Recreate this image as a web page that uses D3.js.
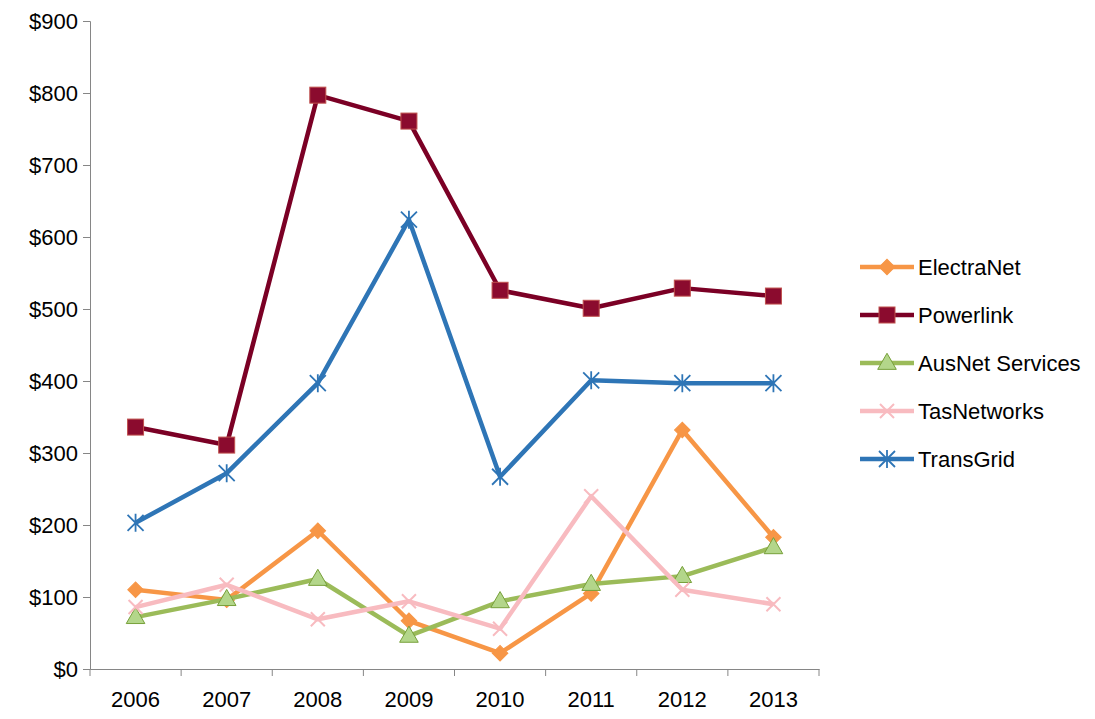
<!DOCTYPE html>
<html><head><meta charset="utf-8">
<script src="https://cdn.jsdelivr.net/npm/d3@7"></script>
<style>body{margin:0;background:#fff}</style>
</head><body>
<svg id="chart" width="1095" height="719"></svg>
<script>
let years = ['2006','2007','2008','2009','2010','2011','2012','2013'];
let yTicks = [0,100,200,300,400,500,600,700,800,900];
let electraNet = [110,96,192,67,22,105,332,183];
let powerlink = [336,311,797,761,526,501,529,518];
let ausNet = [72,97,125,46,94,118,129,169];
let tasNetworks = [86,117,69,94,56,240,110,90];
let transGrid = [203,272,397,624,267,401,397,397];

let seriesList = [
  {name:'ElectraNet', values:electraNet, color:'#F79646', marker:'diamond', fill:'#F79646'},
  {name:'Powerlink', values:powerlink, color:'#7B0025', marker:'square', fill:'#8B0B2E'},
  {name:'AusNet Services', values:ausNet, color:'#9BBB59', marker:'triangle', fill:'#B3D68A'},
  {name:'TasNetworks', values:tasNetworks, color:'#F8BBC0', marker:'x', fill:'none'},
  {name:'TransGrid', values:transGrid, color:'#2E75B6', marker:'star', fill:'none'}
];

let svg = d3.select('#chart');
let plotLeft = 90, plotRight = 819, plotTop = 21, plotBottom = 669;

let x = d3.scaleBand().domain(years).range([plotLeft, plotRight]);
let y = d3.scaleLinear().domain([0, 900]).range([plotBottom, plotTop]);
let font = "'Liberation Sans', Arial, sans-serif";
let fs = '22px';

// y axis
let ya = svg.append('g').attr('transform', `translate(${plotLeft},0)`)
  .call(d3.axisLeft(y).tickValues(yTicks).tickFormat(d => '$' + d).tickSize(7).tickPadding(5));
ya.selectAll('text').style('font-size',fs).attr('font-family',font).attr('fill','#000');
ya.selectAll('line,path').attr('stroke','#868686');

// x axis
let xa = svg.append('g').attr('transform', `translate(0,${plotBottom})`)
  .call(d3.axisBottom(x).tickSize(0).tickPadding(22));
xa.selectAll('text').style('font-size',fs).attr('font-family',font).attr('fill','#000');
xa.select('.domain').attr('stroke','#868686');
xa.selectAll('.sep').data(d3.range(years.length + 1)).enter().append('line')
  .attr('x1', i => plotLeft + i * x.step()).attr('x2', i => plotLeft + i * x.step())
  .attr('y1', 0).attr('y2', 7).attr('stroke','#868686');

function drawMarker(g, type, cx, cy, s) {
  if (type === 'diamond') {
    g.append('rect').attr('x', -5.5).attr('y', -5.5).attr('width', 11).attr('height', 11)
      .attr('transform',`translate(${cx},${cy}) rotate(45)`)
      .attr('fill', s.fill).attr('stroke', s.color);
  } else if (type === 'square') {
    g.append('rect').attr('x', cx-8).attr('y', cy-8).attr('width',16).attr('height',16)
      .attr('fill', s.fill).attr('stroke','#C0504D').attr('stroke-width',1);
  } else if (type === 'triangle') {
    g.append('path').attr('d', d3.symbol(d3.symbolTriangle, 150)()).attr('transform',`translate(${cx},${cy+1})`)
      .attr('fill', s.fill).attr('stroke', '#77A03A').attr('stroke-width',1);
  } else if (type === 'x') {
    g.append('path').attr('d', `M${cx-7},${cy-7}L${cx+7},${cy+7}M${cx-7},${cy+7}L${cx+7},${cy-7}`)
      .attr('stroke', s.color).attr('stroke-width',2);
  } else if (type === 'star') {
    g.append('path').attr('d', `M${cx-8},${cy-8}L${cx+8},${cy+8}M${cx-8},${cy+8}L${cx+8},${cy-8}M${cx},${cy-9}L${cx},${cy+9}`)
      .attr('stroke', s.color).attr('stroke-width',1.8);
  }
}

let line = d3.line().x((d, i) => x(years[i]) + x.bandwidth()/2).y(d => y(d));

seriesList.forEach(s => {
  let g = svg.append('g');
  g.append('path').datum(s.values).attr('d', line).attr('fill','none')
    .attr('stroke', s.color).attr('stroke-width', 4.5).attr('stroke-linejoin','round');
  s.values.forEach((v, i) => drawMarker(g, s.marker, x(years[i]) + x.bandwidth()/2, y(v), s));
});

// legend
seriesList.forEach((s, i) => {
  let ly = 267 + i * 48;
  let g = svg.append('g');
  g.append('line').attr('x1', 860).attr('x2', 914).attr('y1', ly).attr('y2', ly)
    .attr('stroke', s.color).attr('stroke-width', 4.5);
  drawMarker(g, s.marker, 887, ly, s);
  g.append('text').attr('x', 918).attr('y', ly + 8).text(s.name)
    .style('font-size',fs).attr('font-family',font);
});
</script>
</body></html>
